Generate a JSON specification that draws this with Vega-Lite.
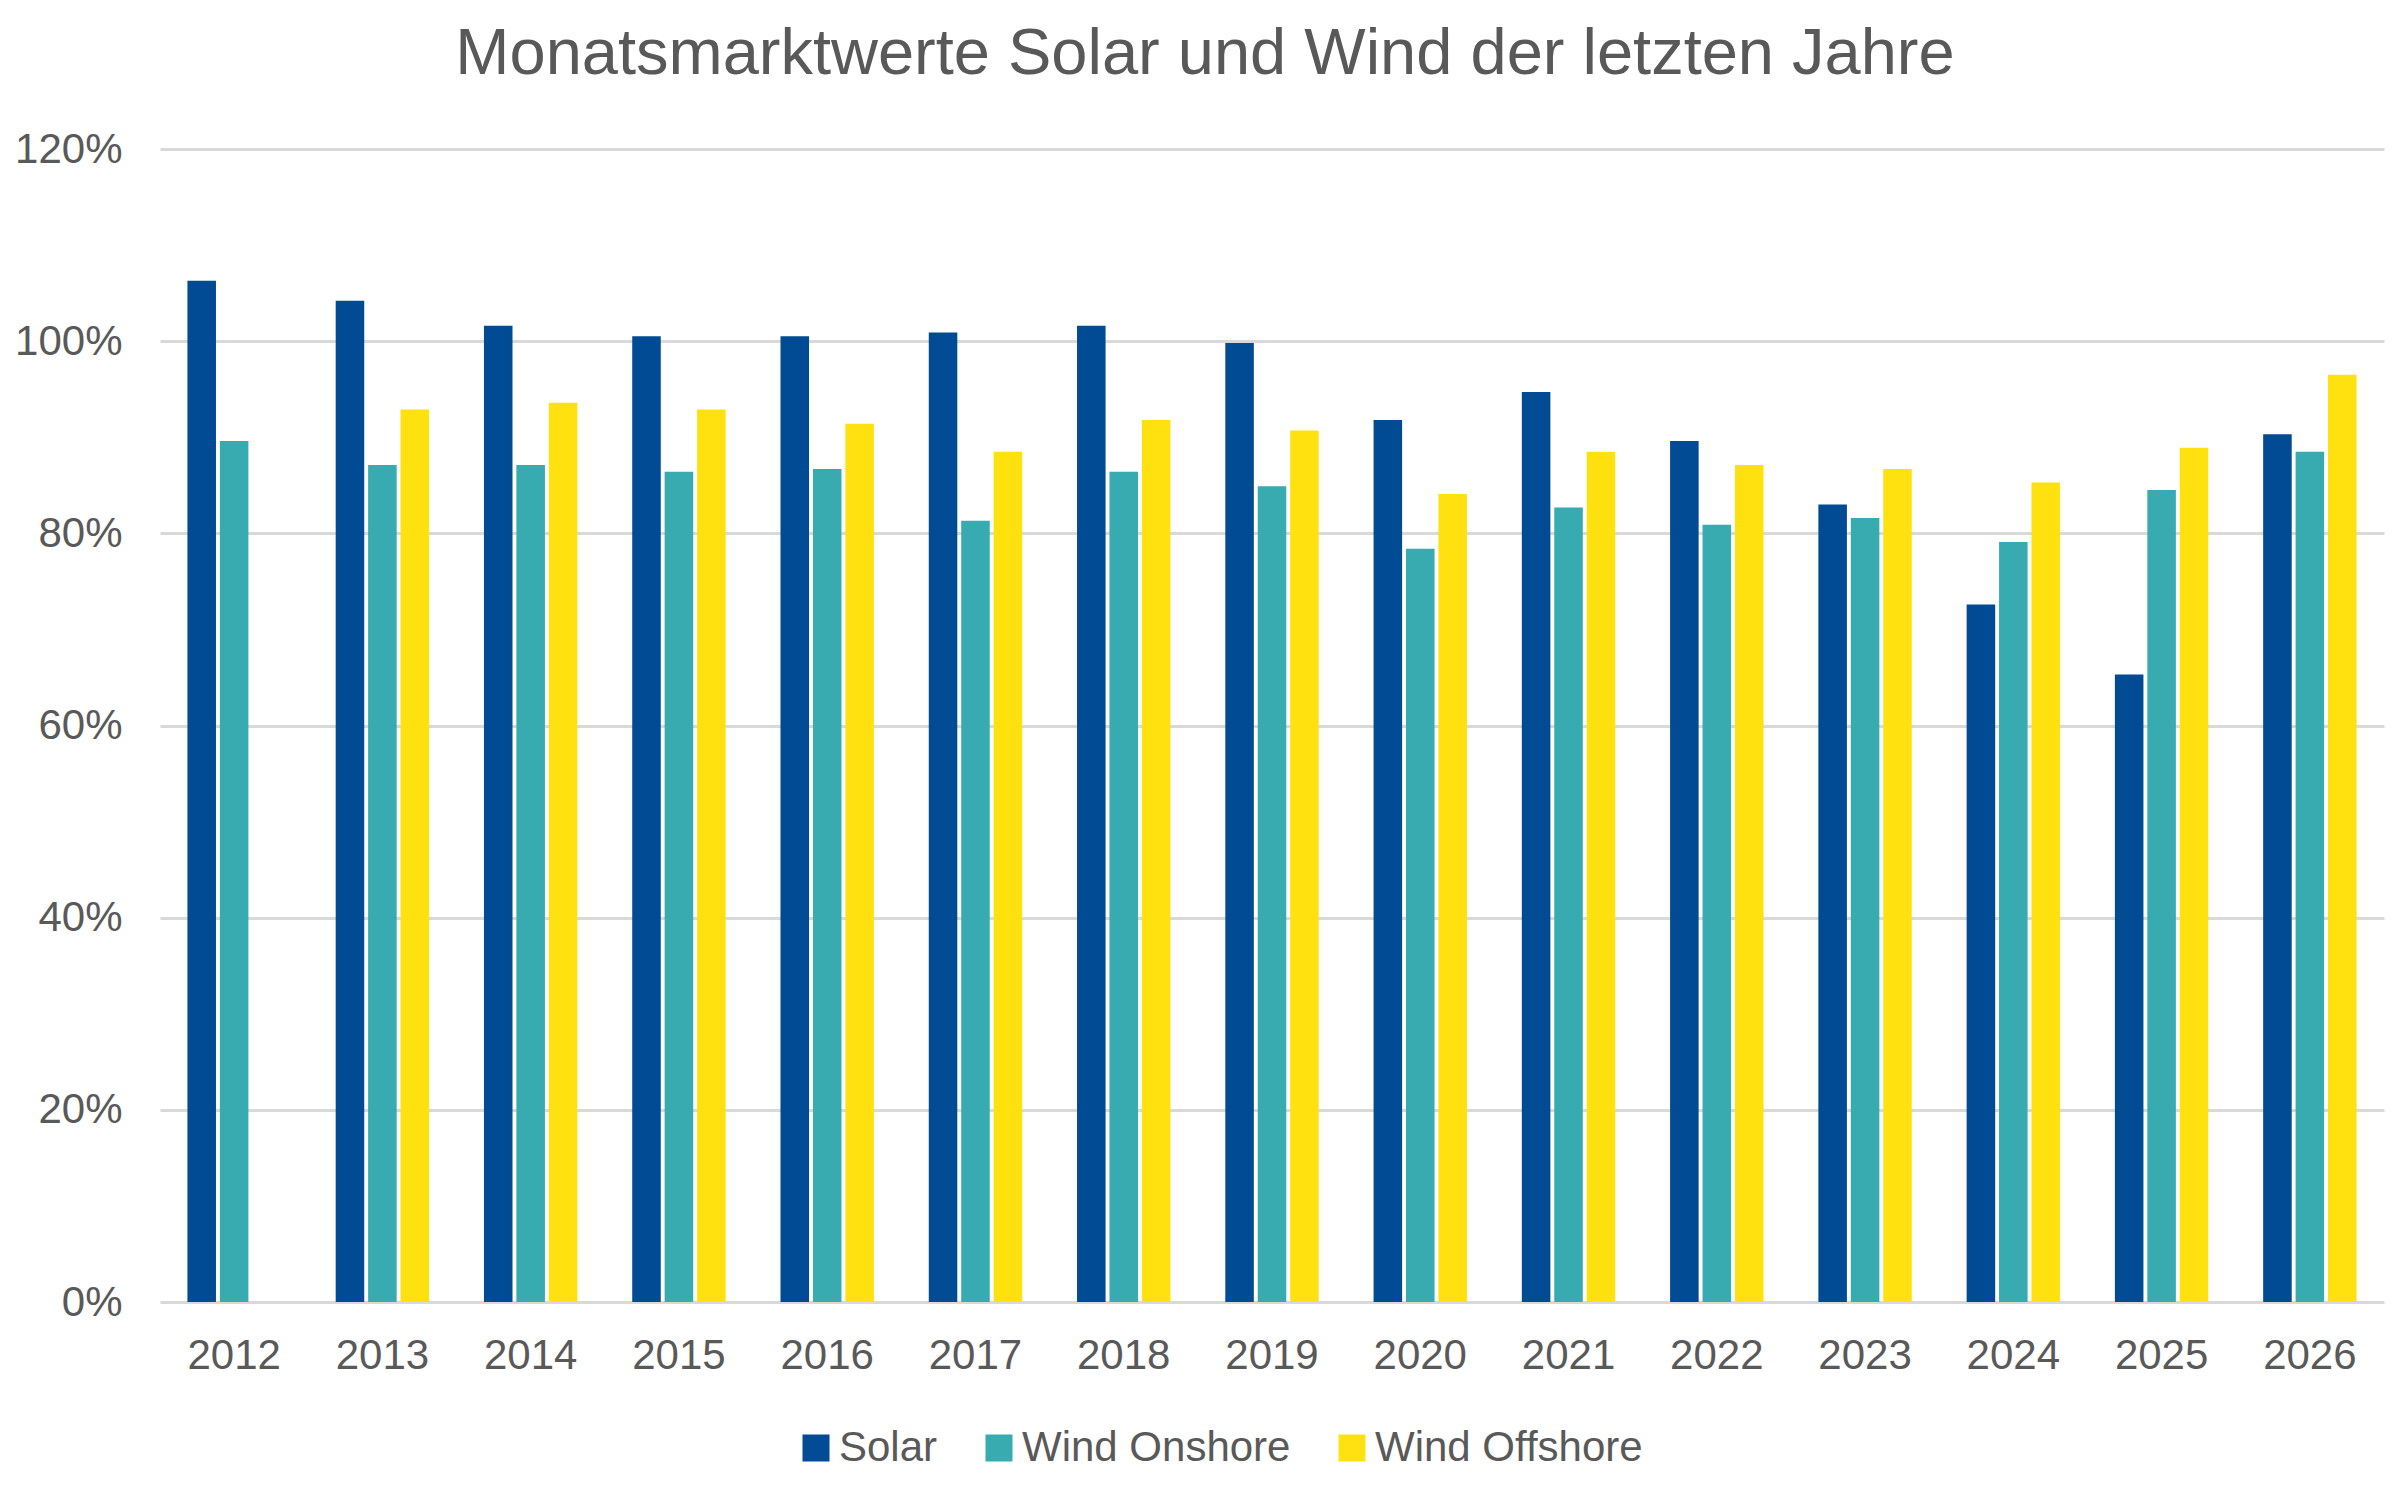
{
  "$schema": "https://vega.github.io/schema/vega-lite/v6.json",
  "width": 2224,
  "height": 1153,
  "autosize": {"type": "none"},
  "padding": {"left": 160, "top": 149, "right": 16, "bottom": 190},
  "background": "white",
  "title": {
    "text": "Monatsmarktwerte Solar und Wind der letzten Jahre",
    "font": "Liberation Sans, Arial, sans-serif",
    "fontSize": 65,
    "fontWeight": "normal",
    "color": "#595959",
    "offset": 40,
    "dx": -67
  },
  "data": {
    "values": [
      {"jahr": "2012", "typ": "Solar", "wert": 1.063},
      {"jahr": "2012", "typ": "Wind Onshore", "wert": 0.896},
      {"jahr": "2013", "typ": "Solar", "wert": 1.042},
      {"jahr": "2013", "typ": "Wind Onshore", "wert": 0.871},
      {"jahr": "2013", "typ": "Wind Offshore", "wert": 0.929},
      {"jahr": "2014", "typ": "Solar", "wert": 1.016},
      {"jahr": "2014", "typ": "Wind Onshore", "wert": 0.871},
      {"jahr": "2014", "typ": "Wind Offshore", "wert": 0.936},
      {"jahr": "2015", "typ": "Solar", "wert": 1.005},
      {"jahr": "2015", "typ": "Wind Onshore", "wert": 0.864},
      {"jahr": "2015", "typ": "Wind Offshore", "wert": 0.929},
      {"jahr": "2016", "typ": "Solar", "wert": 1.005},
      {"jahr": "2016", "typ": "Wind Onshore", "wert": 0.867},
      {"jahr": "2016", "typ": "Wind Offshore", "wert": 0.914},
      {"jahr": "2017", "typ": "Solar", "wert": 1.009},
      {"jahr": "2017", "typ": "Wind Onshore", "wert": 0.813},
      {"jahr": "2017", "typ": "Wind Offshore", "wert": 0.885},
      {"jahr": "2018", "typ": "Solar", "wert": 1.016},
      {"jahr": "2018", "typ": "Wind Onshore", "wert": 0.864},
      {"jahr": "2018", "typ": "Wind Offshore", "wert": 0.918},
      {"jahr": "2019", "typ": "Solar", "wert": 0.998},
      {"jahr": "2019", "typ": "Wind Onshore", "wert": 0.849},
      {"jahr": "2019", "typ": "Wind Offshore", "wert": 0.907},
      {"jahr": "2020", "typ": "Solar", "wert": 0.918},
      {"jahr": "2020", "typ": "Wind Onshore", "wert": 0.784},
      {"jahr": "2020", "typ": "Wind Offshore", "wert": 0.841},
      {"jahr": "2021", "typ": "Solar", "wert": 0.947},
      {"jahr": "2021", "typ": "Wind Onshore", "wert": 0.827},
      {"jahr": "2021", "typ": "Wind Offshore", "wert": 0.885},
      {"jahr": "2022", "typ": "Solar", "wert": 0.896},
      {"jahr": "2022", "typ": "Wind Onshore", "wert": 0.809},
      {"jahr": "2022", "typ": "Wind Offshore", "wert": 0.871},
      {"jahr": "2023", "typ": "Solar", "wert": 0.830},
      {"jahr": "2023", "typ": "Wind Onshore", "wert": 0.816},
      {"jahr": "2023", "typ": "Wind Offshore", "wert": 0.867},
      {"jahr": "2024", "typ": "Solar", "wert": 0.726},
      {"jahr": "2024", "typ": "Wind Onshore", "wert": 0.791},
      {"jahr": "2024", "typ": "Wind Offshore", "wert": 0.853},
      {"jahr": "2025", "typ": "Solar", "wert": 0.653},
      {"jahr": "2025", "typ": "Wind Onshore", "wert": 0.845},
      {"jahr": "2025", "typ": "Wind Offshore", "wert": 0.889},
      {"jahr": "2026", "typ": "Solar", "wert": 0.903},
      {"jahr": "2026", "typ": "Wind Onshore", "wert": 0.885},
      {"jahr": "2026", "typ": "Wind Offshore", "wert": 0.965}
    ]
  },
  "mark": {"type": "bar"},
  "encoding": {
    "x": {
      "field": "jahr",
      "type": "nominal",
      "title": null,
      "scale": {"paddingInner": 0.37, "paddingOuter": 0.185},
      "axis": {
        "labelAngle": 0,
        "ticks": false,
        "domain": false,
        "labelPadding": 33,
        "labelFontSize": 42,
        "labelFont": "Liberation Sans, Arial, sans-serif",
        "labelColor": "#595959"
      }
    },
    "xOffset": {
      "field": "typ",
      "type": "nominal",
      "sort": ["Solar", "Wind Onshore", "Wind Offshore"],
      "scale": {"paddingInner": 0.12, "paddingOuter": 0}
    },
    "y": {
      "field": "wert",
      "type": "quantitative",
      "title": null,
      "scale": {"domain": [0, 1.2]},
      "axis": {
        "values": [0, 0.2, 0.4, 0.6, 0.8, 1.0, 1.2],
        "format": ".0%",
        "ticks": false,
        "domain": false,
        "labelPadding": 38,
        "labelFontSize": 42,
        "labelFont": "Liberation Sans, Arial, sans-serif",
        "labelColor": "#595959",
        "gridColor": "#D9D9D9",
        "gridWidth": 3
      }
    },
    "color": {
      "field": "typ",
      "type": "nominal",
      "title": null,
      "sort": ["Solar", "Wind Onshore", "Wind Offshore"],
      "scale": {
        "domain": ["Solar", "Wind Onshore", "Wind Offshore"],
        "range": ["#004B93", "#37ABB0", "#FFE10F"]
      },
      "legend": {
        "orient": "none",
        "legendX": 635,
        "legendY": 1278,
        "padding": 0,
        "direction": "horizontal",
        "symbolType": "square",
        "symbolSize": 729,
        "symbolStrokeWidth": 0,
        "symbolOpacity": 1,
        "labelFontSize": 42,
        "labelLimit": 600,
        "labelFont": "Liberation Sans, Arial, sans-serif",
        "labelColor": "#595959",
        "labelOffset": 2,
        "columnPadding": 40
      }
    }
  },
  "config": {
    "view": {"stroke": null}
  }
}
